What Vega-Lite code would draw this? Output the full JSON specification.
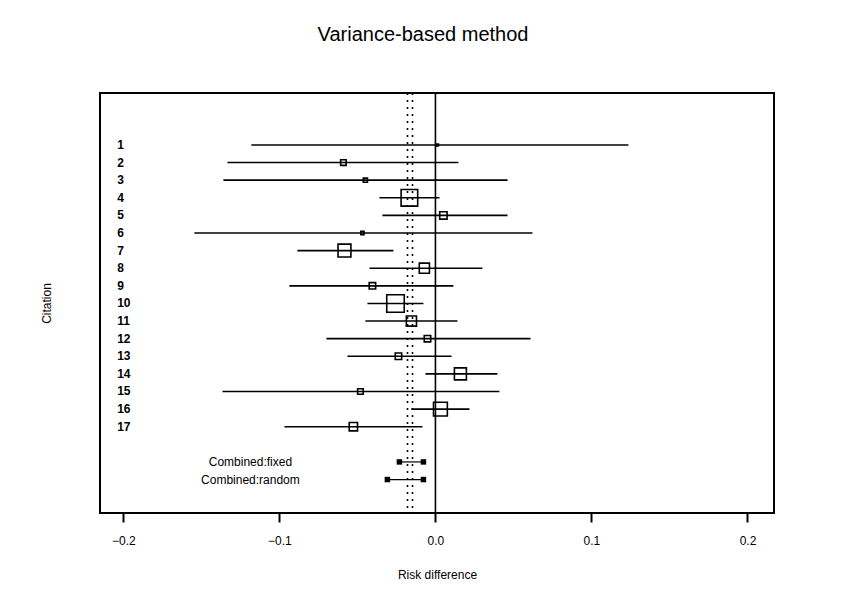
{
  "$schema": "https://vega.github.io/schema/vega-lite/v6.json",
  "width": 674,
  "height": 420,
  "autosize": {"type": "none"},
  "padding": {"left": 100, "top": 93, "right": 81, "bottom": 83},
  "background": "white",
  "title": {"text": "Variance-based method", "fontSize": 20, "font": "Liberation Sans", "fontWeight": "normal", "color": "black", "offset": 47, "dx": -14, "anchor": "middle"},
  "config": {"view": {"stroke": "black", "strokeWidth": 2}, "font": "Liberation Sans"},
  "datasets": {
    "studies": [
      {"citation": "1", "row": 1, "est": 0.0013, "low": -0.118, "high": 0.1237, "weight": 4},
      {"citation": "2", "row": 2, "est": -0.059, "low": -0.1333, "high": 0.0147, "weight": 36},
      {"citation": "3", "row": 3, "est": -0.0449, "low": -0.1359, "high": 0.0462, "weight": 20},
      {"citation": "4", "row": 4, "est": -0.0167, "low": -0.0359, "high": 0.0026, "weight": 324},
      {"citation": "5", "row": 5, "est": 0.0051, "low": -0.034, "high": 0.0462, "weight": 64},
      {"citation": "6", "row": 6, "est": -0.0468, "low": -0.1545, "high": 0.0622, "weight": 12},
      {"citation": "7", "row": 7, "est": -0.0583, "low": -0.0885, "high": -0.0269, "weight": 196},
      {"citation": "8", "row": 8, "est": -0.0071, "low": -0.0423, "high": 0.0301, "weight": 121},
      {"citation": "9", "row": 9, "est": -0.0404, "low": -0.0936, "high": 0.0115, "weight": 49},
      {"citation": "10", "row": 10, "est": -0.0256, "low": -0.0436, "high": -0.0077, "weight": 361},
      {"citation": "11", "row": 11, "est": -0.0154, "low": -0.0449, "high": 0.0141, "weight": 121},
      {"citation": "12", "row": 12, "est": -0.0051, "low": -0.0699, "high": 0.0609, "weight": 49},
      {"citation": "13", "row": 13, "est": -0.0237, "low": -0.0564, "high": 0.0103, "weight": 49},
      {"citation": "14", "row": 14, "est": 0.016, "low": -0.0064, "high": 0.0397, "weight": 169},
      {"citation": "15", "row": 15, "est": -0.0481, "low": -0.1365, "high": 0.041, "weight": 36},
      {"citation": "16", "row": 16, "est": 0.0032, "low": -0.0154, "high": 0.0218, "weight": 225},
      {"citation": "17", "row": 17, "est": -0.0526, "low": -0.0968, "high": -0.0083, "weight": 81}
    ],
    "combined": [
      {"method": "Combined:fixed", "row": 19, "est": -0.0147, "low": -0.0231, "high": -0.0077},
      {"method": "Combined:random", "row": 20, "est": -0.0179, "low": -0.0308, "high": -0.0077}
    ],
    "zero": [{"value": 0}]
  },
  "layer": [
    {
      "data": {"name": "zero"},
      "mark": {"type": "rule", "color": "black", "strokeWidth": 1.6},
      "encoding": {
        "x": {
          "field": "value", "type": "quantitative",
          "scale": {"domain": [-0.215, 0.217], "nice": false, "zero": false},
          "title": "Risk difference",
          "axis": {"values": [-0.2, -0.1, 0, 0.1, 0.2], "format": ".1f", "grid": false, "domain": false,
            "tickSize": 9, "tickWidth": 2, "tickColor": "black", "labelPadding": 13, "labelFontSize": 12,
            "labelColor": "black", "labelFont": "Liberation Sans", "titleFontSize": 12, "titleFontWeight": "normal",
            "titleColor": "black", "titlePadding": 23, "titleFont": "Liberation Sans"}
        }
      }
    },
    {
      "data": {"name": "combined"},
      "mark": {"type": "rule", "color": "black", "strokeWidth": 1.6, "strokeDash": [2, 5]},
      "encoding": {"x": {"field": "est", "type": "quantitative"}}
    },
    {
      "data": {"name": "studies"},
      "mark": {"type": "rule", "color": "black", "strokeWidth": 1.6},
      "encoding": {
        "x": {"field": "low", "type": "quantitative"},
        "x2": {"field": "high"},
        "y": {
          "field": "row", "type": "quantitative",
          "scale": {"domain": [-1.95, 21.9], "reverse": true, "nice": false, "zero": false},
          "title": "Citation",
          "axis": {"labels": false, "ticks": false, "domain": false, "grid": false, "titlePadding": 47,
            "titleFontSize": 12, "titleFontWeight": "normal", "titleColor": "black", "titleFont": "Liberation Sans"}
        }
      }
    },
    {
      "data": {"name": "studies"},
      "mark": {"type": "point", "shape": "square", "filled": false, "color": "black", "strokeWidth": 1.6, "opacity": 1},
      "encoding": {
        "x": {"field": "est", "type": "quantitative"},
        "y": {"field": "row", "type": "quantitative"},
        "size": {"field": "weight", "type": "quantitative", "scale": {"type": "linear", "domain": [0, 400], "range": [0, 340]}, "legend": null}
      }
    },
    {
      "data": {"name": "studies"},
      "mark": {"type": "text", "align": "left", "baseline": "middle", "fontSize": 12, "fontWeight": "bold", "color": "black", "font": "Liberation Sans"},
      "encoding": {
        "x": {"datum": -0.204},
        "y": {"field": "row", "type": "quantitative"},
        "text": {"field": "citation"}
      }
    },
    {
      "data": {"name": "combined"},
      "mark": {"type": "rule", "color": "black", "strokeWidth": 1.2},
      "encoding": {
        "x": {"field": "low", "type": "quantitative"},
        "x2": {"field": "high"},
        "y": {"field": "row", "type": "quantitative"}
      }
    },
    {
      "data": {"name": "combined"},
      "mark": {"type": "point", "shape": "square", "filled": true, "color": "black", "size": 30, "opacity": 1},
      "encoding": {
        "x": {"field": "low", "type": "quantitative"},
        "y": {"field": "row", "type": "quantitative"}
      }
    },
    {
      "data": {"name": "combined"},
      "mark": {"type": "point", "shape": "square", "filled": true, "color": "black", "size": 30, "opacity": 1},
      "encoding": {
        "x": {"field": "high", "type": "quantitative"},
        "y": {"field": "row", "type": "quantitative"}
      }
    },
    {
      "data": {"name": "combined"},
      "mark": {"type": "text", "align": "center", "baseline": "middle", "fontSize": 12, "color": "black", "font": "Liberation Sans"},
      "encoding": {
        "x": {"datum": -0.1186},
        "y": {"field": "row", "type": "quantitative"},
        "text": {"field": "method"}
      }
    }
  ]
}
